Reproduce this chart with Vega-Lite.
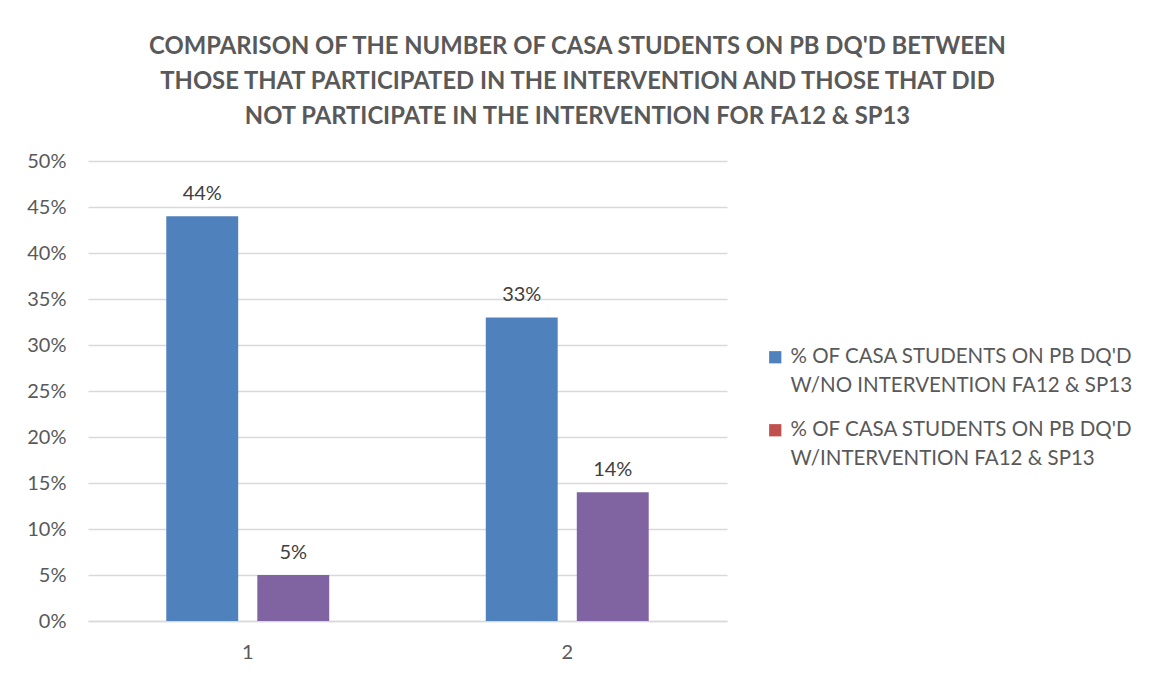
{
  "$schema": "https://vega.github.io/schema/vega-lite/v6.json",
  "autosize": {"type": "none"},
  "width": 639,
  "height": 460,
  "padding": {"left": 88, "top": 161, "right": 427, "bottom": 56},
  "background": "white",
  "config": {
    "font": "Lato",
    "view": {"stroke": null},
    "style": {"guide-label": {"lineHeight": 29}}
  },
  "title": {
    "text": ["COMPARISON OF THE NUMBER OF CASA STUDENTS ON PB DQ'D BETWEEN", "THOSE THAT PARTICIPATED IN THE INTERVENTION AND THOSE THAT DID", "NOT PARTICIPATE IN THE INTERVENTION FOR FA12 & SP13"],
    "font": "Lato",
    "fontSize": 23.8,
    "fontWeight": "bold",
    "color": "#595959",
    "lineHeight": 35,
    "anchor": "middle",
    "dx": 170,
    "offset": 22
  },
  "data": {
    "values": [
      {"group": "1", "series": "% OF CASA STUDENTS ON PB DQ'D W/NO INTERVENTION FA12 & SP13", "value": 0.44},
      {"group": "1", "series": "% OF CASA STUDENTS ON PB DQ'D W/INTERVENTION FA12 & SP13", "value": 0.05},
      {"group": "2", "series": "% OF CASA STUDENTS ON PB DQ'D W/NO INTERVENTION FA12 & SP13", "value": 0.33},
      {"group": "2", "series": "% OF CASA STUDENTS ON PB DQ'D W/INTERVENTION FA12 & SP13", "value": 0.14}
    ]
  },
  "encoding": {
    "x": {
      "field": "group", "type": "nominal",
      "scale": {"paddingInner": 0.49, "paddingOuter": 0.245},
      "axis": {
        "title": null, "labelAngle": 0, "labelFontSize": 20, "labelColor": "#595959",
        "labelPadding": 21, "ticks": false, "domainColor": "#d9d9d9", "domainWidth": 1.5
      }
    },
    "xOffset": {
      "field": "series", "type": "nominal",
      "sort": ["% OF CASA STUDENTS ON PB DQ'D W/NO INTERVENTION FA12 & SP13", "% OF CASA STUDENTS ON PB DQ'D W/INTERVENTION FA12 & SP13"],
      "scale": {"paddingInner": 0.21, "paddingOuter": 0}
    },
    "y": {
      "field": "value", "type": "quantitative",
      "scale": {"domain": [0, 0.5]},
      "axis": {
        "title": null, "format": ".0%", "values": [0, 0.05, 0.1, 0.15, 0.2, 0.25, 0.3, 0.35, 0.4, 0.45, 0.5],
        "labelOverlap": false,
        "labelFontSize": 20, "labelColor": "#595959", "labelPadding": 22,
        "domain": false, "ticks": false, "gridColor": "#d9d9d9", "gridWidth": 1.5
      }
    }
  },
  "layer": [
    {
      "mark": {"type": "bar"},
      "encoding": {
        "color": {
          "field": "series", "type": "nominal",
          "sort": ["% OF CASA STUDENTS ON PB DQ'D W/NO INTERVENTION FA12 & SP13", "% OF CASA STUDENTS ON PB DQ'D W/INTERVENTION FA12 & SP13"],
          "scale": {"range": ["#4f81bd", "#8064a2"]},
          "legend": null
        }
      }
    },
    {
      "mark": {"type": "text", "baseline": "bottom", "dy": -12, "fontSize": 20, "color": "#404040"},
      "encoding": {
        "text": {"field": "value", "type": "quantitative", "format": ".0%"}
      }
    },
    {
      "mark": {"type": "square", "opacity": 0},
      "encoding": {
        "color": {
          "field": "series", "type": "nominal",
          "sort": ["% OF CASA STUDENTS ON PB DQ'D W/NO INTERVENTION FA12 & SP13", "% OF CASA STUDENTS ON PB DQ'D W/INTERVENTION FA12 & SP13"],
          "scale": {"range": ["#4f81bd", "#c0504d"]},
          "legend": {
            "title": null,
            "orient": "none",
            "legendX": 677,
            "legendY": 186,
            "symbolType": "square",
            "symbolSize": 150,
            "symbolStrokeWidth": 0,
            "symbolOpacity": 1,
            "labelFontSize": 20.5,
            "labelColor": "#595959",
            "labelLimit": 400,
            "rowPadding": 23,
            "labelOffset": 5,
            "labelExpr": "[slice(datum.label, 0, 29), slice(datum.label, 30)]"
          }
        }
      }
    }
  ],
  "resolve": {"scale": {"color": "independent"}, "legend": {"color": "independent"}}
}
